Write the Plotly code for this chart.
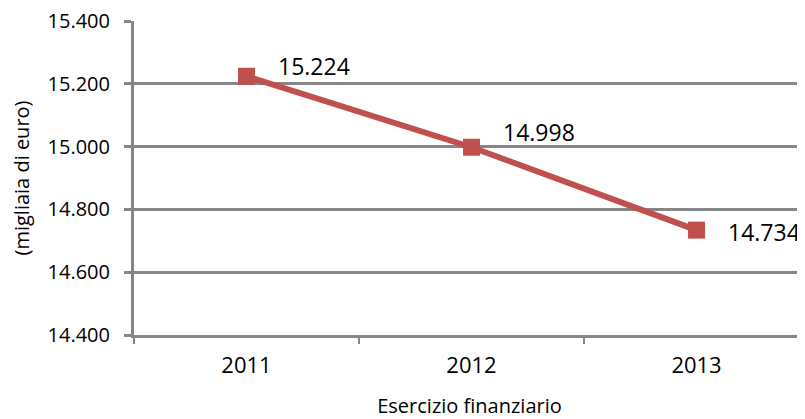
import plotly.graph_objects as go

years = ["2011", "2012", "2013"]
values = [15224, 14998, 14734]
label_texts = ["15.224", "14.998", "14.734"]
y_ticks = [14400, 14600, 14800, 15000, 15200, 15400]

RED = "#C0504D"
GRID = "#868686"
FONT = "Open Sans"

fig = go.Figure()
fig.add_trace(go.Scatter(
    x=years, y=values, mode="lines+markers",
    line=dict(color=RED, width=6),
    marker=dict(symbol="square", size=17, color=RED),
    hoverinfo="skip", showlegend=False,
))

# data labels anchored to data points (category index on x)
shifts = [(29, 10), (29, 15), (29, -2)]
for i, (v, t, (dx, dy)) in enumerate(zip(values, label_texts, shifts)):
    fig.add_annotation(x=i, y=v, xref="x", yref="y", text=t, showarrow=False,
                       xanchor="left", yanchor="middle", xshift=dx, yshift=dy,
                       font=dict(family=FONT, size=23, color="black"))

# page body has an 8px default margin; compensate so the plot sits where the reference does
fig.update_layout(
    width=797, height=411,
    margin=dict(l=126, r=0, t=13, b=84, autoexpand=False),
    paper_bgcolor="white", plot_bgcolor="white",
    separators=",.",
    font=dict(family=FONT, size=20, color="black"),
)
fig.update_xaxes(
    type="category", range=[-0.5, 2.482], automargin=False,
    tickson="boundaries", ticks="outside", ticklen=6, tickwidth=2, tickcolor=GRID,
    showline=True, linecolor=GRID, linewidth=3, showgrid=False,
    ticklabelstandoff=9,
    title=dict(text="Esercizio finanziario", font=dict(family=FONT, size=20), standoff=23),
    tickfont=dict(family=FONT, size=22),
)
fig.update_yaxes(
    range=[14400, 15400], tickvals=y_ticks, tickformat=",.0f", automargin=False,
    ticklabeloverflow="allow",
    ticks="outside", ticklen=7, tickwidth=3, tickcolor=GRID,
    showline=True, linecolor=GRID, linewidth=3,
    showgrid=True, gridcolor=GRID, gridwidth=3, zeroline=False,
    ticklabelstandoff=10,
    title=dict(text="(migliaia di euro)", font=dict(family=FONT, size=20), standoff=13),
    tickfont=dict(family=FONT, size=20),
)

fig.write_html("out.html")
